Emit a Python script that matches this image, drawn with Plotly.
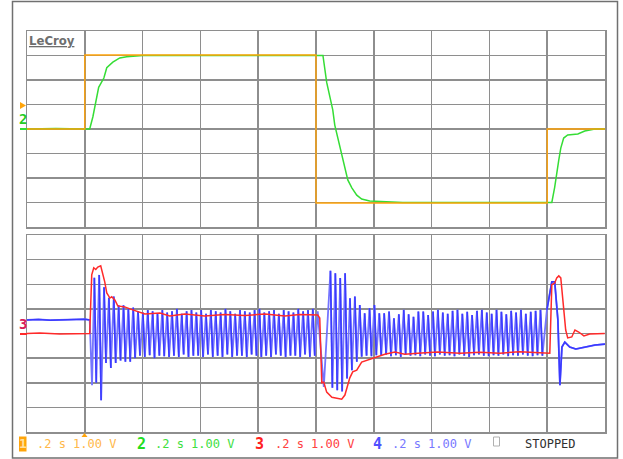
import plotly.graph_objects as go

# ---------------- data (time in s, trigger at 0; values in V at 1 V/div) ----------------
ch1_t = [-0.2, 0.0, 0.0, 0.8, 0.8, 1.6, 1.6, 1.8]
ch1_v = [0.0, 0.0, 3.02, 3.02, -3.02, -3.02, 0.0, 0.0]

ch2_t = [-0.2, -0.1, 0.0, 0.017, 0.028, 0.042, 0.048, 0.066, 0.076, 0.097, 0.121, 0.145, 0.2,
         0.5, 0.79, 0.824, 0.837, 0.848, 0.858, 0.865, 0.882, 0.896, 0.910, 0.924, 0.941,
         0.958, 0.986, 1.1, 1.4, 1.616, 1.626, 1.633, 1.640, 1.647, 1.657, 1.671, 1.706,
         1.730, 1.765, 1.8]
ch2_v = [0.0, 0.02, 0.0, 0.0, 0.5, 1.27, 1.7, 2.08, 2.5, 2.73, 2.9, 2.95, 3.0,
         3.0, 3.0, 3.0, 1.9, 1.3, 0.78, 0.16, -0.73, -1.39, -2.08, -2.4, -2.7,
         -2.86, -2.94, -3.0, -3.0, -3.0, -2.37, -1.76, -1.27, -0.78, -0.37, -0.24, -0.2,
         -0.08, 0.0, 0.0]

ch3_t = [-0.2, -0.156, -0.087, -0.017, 0.017, 0.024, 0.031, 0.038, 0.045, 0.055, 0.062,
         0.069, 0.076, 0.087, 0.093, 0.104, 0.114, 0.138, 0.166, 0.208, 0.260, 0.294,
         0.346, 0.415, 0.484, 0.554, 0.623, 0.692, 0.744, 0.799, 0.806, 0.813, 0.817,
         0.820, 0.827, 0.837, 0.855, 0.872, 0.889, 0.900, 0.910, 0.917, 0.927, 0.941,
         0.958, 0.979, 1.003, 1.038, 1.073, 1.107, 1.152, 1.221, 1.298, 1.367, 1.436,
         1.505, 1.574, 1.609, 1.616, 1.626, 1.633, 1.640, 1.647, 1.654, 1.664, 1.671,
         1.685, 1.696, 1.709, 1.727, 1.747, 1.799]
ch3_v = [0.0, 0.02, -0.02, 0.0, 0.0, 2.38, 2.67, 2.6, 2.7, 2.75, 2.46,
         2.1, 1.65, 1.44, 1.49, 1.36, 1.12, 1.08, 0.96, 0.79, 0.83, 0.71,
         0.79, 0.71, 0.77, 0.73, 0.79, 0.71, 0.77, 0.75, 0.75, 0.63, -0.88,
         -2.0, -1.98, -2.38, -2.59, -2.63, -2.67, -2.5, -2.1, -1.8, -1.56, -1.49,
         -1.16, -1.08, -0.96, -0.84, -0.75, -0.84, -0.8, -0.75, -0.8, -0.76, -0.8,
         -0.74, -0.78, -0.8, 1.98, 2.05, 2.26, 2.34, 2.26, 1.24, 0.14, -0.18,
         -0.14, 0.14, 0.06, -0.1, -0.02, 0.0]

# channel 4 (blue): baseline, two oscillation bursts (peak / trough per cycle), tail
ch4_pre_t = [-0.2, -0.16, -0.12, -0.08, -0.04, 0.0, 0.017, 0.025]
ch4_pre_v = [0.55, 0.57, 0.54, 0.56, 0.55, 0.58, 0.55, -2.1]

ch4_b1_start = 0.033     # time of first peak of burst 1
ch4_b1_period = 0.0168   # cycle period
ch4_b1_tops = [2.26, 2.38, 1.88, 1.45, 1.5, 1.15, 1.15, 1.0, 1.05, 0.9,
               0.85, 0.95, 0.9, 0.8, 0.95, 0.85, 0.9, 1.0, 0.8, 0.9,
               0.95, 0.85, 0.95, 0.8, 0.95, 0.9, 0.85, 1.0, 0.9, 0.8,
               0.95, 0.9, 0.85, 0.95, 1.0, 0.85, 0.9, 0.95, 0.8, 0.95,
               0.9, 0.85, 1.0, 0.9, 0.95, 1.0]
ch4_b1_bottoms = [-2.0, -2.71, -1.2, -1.4, -1.2, -1.1, -1.15, -1.15, -1.0, -0.9,
                  -0.95, -0.88, -1.0, -0.9, -0.92, -0.95, -0.9, -0.95, -0.85, -0.95,
                  -0.9, -0.9, -0.95, -0.85, -0.95, -0.9, -0.95, -0.85, -0.95, -0.9,
                  -0.9, -0.95, -0.85, -0.9, -0.95, -0.9, -0.95, -0.85, -0.9, -0.95,
                  -0.9, -0.9, -0.95, -0.85, -0.95, -0.9]

ch4_mid_t = [0.806, 0.827]
ch4_mid_v = [0.9, -2.17]

ch4_b2_start = 0.850
ch4_b2_period = 0.0169
ch4_b2_tops = [2.55, 2.45, 2.25, 2.45, 1.43, 1.5, 1.16, 0.82, 1.03, 1.16,
               0.82, 0.82, 0.89, 0.62, 0.78, 0.96, 0.78, 0.68, 0.89, 0.89,
               0.75, 0.89, 0.96, 0.85, 0.8, 0.92, 0.96, 0.8, 0.88, 0.75,
               0.92, 0.96, 0.85, 0.8, 0.96, 0.88, 0.78, 0.92, 0.85, 0.96,
               0.8, 0.88, 0.92, 0.96]
ch4_b2_bottoms = [-2.2, -2.3, -2.35, -1.83, -1.49, -1.15, -0.94, -0.9, -0.92, -0.88,
                  -0.9, -0.85, -0.92, -0.88, -0.95, -0.85, -0.9, -0.88, -0.92, -0.85,
                  -0.9, -0.92, -0.85, -0.9, -0.88, -0.92, -0.85, -0.9, -0.95, -0.88,
                  -0.85, -0.9, -0.92, -0.88, -0.9, -0.85, -0.92, -0.88, -0.9, -0.85,
                  -0.9, -0.92, -0.88, -0.9]

ch4_end_t = [1.599, 1.616, 1.626, 1.637, 1.644, 1.651, 1.661, 1.678, 1.699, 1.730, 1.765, 1.8]
ch4_end_v = [0.96, 2.1, 2.1, 0.55, -2.1, -0.55, -0.35, -0.55, -0.63, -0.55, -0.47, -0.43]

channel_labels = ["1", "2", "3", "4"]
channel_setting = ".2 s 1.00 V"
status_text = "STOPPED"
brand = "LeCroy"

# ---------------- styling / geometry ----------------
W, H = 623, 459
def px(x):
    return x / W
def py(y):
    return 1 - y / H

ORANGE = "#ffa40a"
GREEN = "#35dd35"
RED = "#ff2a2a"
BLUE_D = "#3a3aff"
BLUE_L = "#7474ff"
GRID = "#8e8e8e"

X_DOM = [px(27), px(605)]
Y1_DOM = [py(227), py(31)]
Y2_DOM = [py(432), py(235)]

# build blue traces
DOWN = 0.4
full_t, full_v = list(ch4_pre_t), list(ch4_pre_v)
dark_t, dark_v = list(ch4_pre_t[:-1]), list(ch4_pre_v[:-1])
dark_t.append(None); dark_v.append(None)

def add_burst(start, period, tops, bottoms):
    for i, (tp, bm) in enumerate(zip(tops, bottoms)):
        t = start + i * period
        full_t.extend([t, t + DOWN * period])
        full_v.extend([tp, bm])
        dark_t.extend([t, t + DOWN * period, None])
        dark_v.extend([tp, bm, None])

add_burst(ch4_b1_start, ch4_b1_period, ch4_b1_tops, ch4_b1_bottoms)
full_t.extend(ch4_mid_t); full_v.extend(ch4_mid_v)
add_burst(ch4_b2_start, ch4_b2_period, ch4_b2_tops, ch4_b2_bottoms)
full_t.extend(ch4_end_t); full_v.extend(ch4_end_v)
dark_t.extend(ch4_end_t); dark_v.extend(ch4_end_v)

fig = go.Figure()
fig.add_trace(go.Scatter(x=ch2_t, y=ch2_v, mode="lines", line=dict(color=GREEN, width=1.5),
                         xaxis="x", yaxis="y"))
fig.add_trace(go.Scatter(x=ch1_t, y=ch1_v, mode="lines", line=dict(color=ORANGE, width=1.4),
                         xaxis="x", yaxis="y"))
fig.add_trace(go.Scatter(x=full_t, y=full_v, mode="lines", line=dict(color=BLUE_L, width=1.8),
                         xaxis="x2", yaxis="y2"))
fig.add_trace(go.Scatter(x=dark_t, y=dark_v, mode="lines", line=dict(color=BLUE_D, width=1.6),
                         connectgaps=False, xaxis="x2", yaxis="y2"))
fig.add_trace(go.Scatter(x=ch3_t, y=ch3_v, mode="lines", line=dict(color=RED, width=1.5),
                         xaxis="x2", yaxis="y2"))

ax_common = dict(showgrid=True, gridcolor=GRID, gridwidth=1.5, showticklabels=False, ticks="",
                 zeroline=False, showline=True, linecolor=GRID, linewidth=1.5, mirror=True,
                 fixedrange=True)
fig.update_layout(
    width=W, height=H, margin=dict(l=0, r=0, t=0, b=0),
    paper_bgcolor="white", plot_bgcolor="white", showlegend=False, hovermode=False,
    xaxis=dict(domain=X_DOM, range=[-0.2, 1.8], tick0=-0.2, dtick=0.2, anchor="y", **ax_common),
    yaxis=dict(domain=Y1_DOM, range=[-4, 4], dtick=1, anchor="x", **ax_common),
    xaxis2=dict(domain=X_DOM, range=[-0.2, 1.8], tick0=-0.2, dtick=0.2, anchor="y2", **ax_common),
    yaxis2=dict(domain=Y2_DOM, range=[-4, 4], dtick=1, anchor="x2", **ax_common),
)

shapes = []
# outer frame
shapes.append(dict(type="rect", xref="paper", yref="paper", x0=px(12.5), x1=px(617.5),
                   y0=py(458), y1=py(1.5), line=dict(color="#707070", width=1.5)))
# left channel markers
shapes.append(dict(type="path", xref="paper", yref="paper",
                   path=f"M {px(20)},{py(102)} L {px(20)},{py(109)} L {px(26)},{py(105.5)} Z",
                   fillcolor=ORANGE, line=dict(width=0)))
shapes.append(dict(type="line", xref="paper", yref="paper", x0=px(20), x1=px(27),
                   y0=py(129), y1=py(129), line=dict(color=GREEN, width=2)))
shapes.append(dict(type="line", xref="paper", yref="paper", x0=px(20), x1=px(27),
                   y0=py(334), y1=py(334), line=dict(color=RED, width=2)))
# trigger position marker
shapes.append(dict(type="path", xref="paper", yref="paper",
                   path=f"M {px(81.5)},{py(437)} L {px(87.5)},{py(437)} L {px(84.5)},{py(433)} Z",
                   fillcolor=ORANGE, line=dict(width=0)))
# channel 1 box
shapes.append(dict(type="rect", xref="paper", yref="paper", x0=px(19), x1=px(26.5),
                   y0=py(451.5), y1=py(436.5), fillcolor=ORANGE, line=dict(width=0)))
# stopped indicator box
shapes.append(dict(type="rect", xref="paper", yref="paper", x0=px(493.5), x1=px(499.5),
                   y0=py(446), y1=py(437), line=dict(color="#b0b0b0", width=1)))
fig.update_layout(shapes=shapes)

MONO = "DejaVu Sans Mono"
ann = []
def text(x, y, s, color, size=12, bold=False, xanchor="left", family=MONO):
    ann.append(dict(xref="paper", yref="paper", x=px(x), y=py(y), text=(f"<b>{s}</b>" if bold else s),
                    showarrow=False, xanchor=xanchor, yanchor="middle",
                    font=dict(family=family, size=size, color=color)))

text(27, 40.5, f"<u>{brand}</u>", "#6e6e6e", size=13, bold=True,
     family="Liberation Sans Narrow, DejaVu Sans Condensed, Liberation Sans")
text(23, 119, "2", "#22cc22", size=14, bold=True, xanchor="center")
text(23, 324, "3", "#d8205a", size=14, bold=True, xanchor="center")

row_y = 443.5
text(22.8, row_y, channel_labels[0], "#ffe0a0", size=13, bold=True, xanchor="center")
text(35, row_y, channel_setting, "#ffb84a")
text(141.5, row_y, channel_labels[1], "#22dd22", size=15, bold=True, xanchor="center")
text(153, row_y, channel_setting, "#3ee03e")
text(259.5, row_y, channel_labels[2], "#ff2020", size=15, bold=True, xanchor="center")
text(272.5, row_y, channel_setting, "#ff4040")
text(377.5, row_y, channel_labels[3], "#5050ff", size=15, bold=True, xanchor="center")
text(390, row_y, channel_setting, "#7878ff")
text(523, row_y, status_text, "#303030")
fig.update_layout(annotations=ann)

fig.write_html("out.html", config={"displayModeBar": False, "staticPlot": True},
               post_script="document.body.style.margin='0';document.body.style.overflow='hidden';")
